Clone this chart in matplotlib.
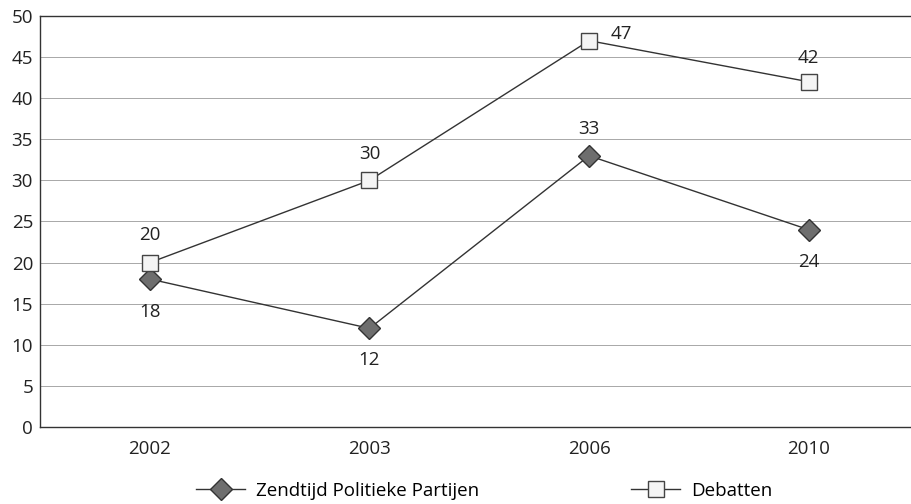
import numpy as np
import matplotlib.pyplot as plt

# Zendtijd vs debatten, percentages per verkiezingsjaar
years = ["2002", "2003", "2006", "2010"]
zendtijd = [18, 12, 33, 24]
debatten = [20, 30, 47, 42]

plt.rcParams['font.family'] = ['Open Sans', 'DejaVu Sans']

fig = plt.figure(figsize=(9.12, 5.04), dpi=100)
ax = fig.add_axes([40/912, 1 - 427/504, 872/912, 411/504])

X = np.arange(len(years))
ax.plot(X, zendtijd, color="#333333", lw=1.0, marker="D", ms=11,
        mfc="#6e6e6e", mec="#333333", mew=1.0, label="Zendtijd Politieke Partijen", zorder=3)
ax.plot(X, debatten, color="#333333", lw=1.0, marker="s", ms=11,
        mfc="#f4f4f4", mec="#444444", mew=1.0, label="Debatten", zorder=3)

# value labels
offs_z = [(0, -24), (0, -23), (0, 19), (0, -23)]
offs_d = [(0, 20), (0, 19), (23, 5), (0, 17)]
for x, v, o in zip(X, zendtijd, offs_z):
    ax.annotate(str(v), (x, v), xytext=o, textcoords="offset points",
                ha="center", va="center", fontsize=13.5, color="#222222")
for x, v, o in zip(X, debatten, offs_d):
    ax.annotate(str(v), (x, v), xytext=o, textcoords="offset points",
                ha="center", va="center", fontsize=13.5, color="#222222")

ax.set_xlim(-0.5, 3.47)
ax.set_ylim(0, 50)
ax.set_yticks(range(0, 51, 5))
ax.set_xticks(X)
ax.set_xticklabels(years)
ax.tick_params(length=0, labelsize=13.5, colors="#222222", pad=9)
ax.tick_params(axis="y", pad=5)
ax.grid(axis="y", color="#a8a8a8", lw=0.7)
ax.set_axisbelow(True)
for s in ["left", "bottom", "top"]:
    ax.spines[s].set_color("#333333")
    ax.spines[s].set_linewidth(1.0)
ax.spines["right"].set_visible(False)

fig.legend(loc="center", bbox_to_anchor=(0.531, 1 - 491/504), ncol=2, frameon=False,
           fontsize=13.5, handlelength=2.6, handletextpad=0.6, columnspacing=8.1)

plt.savefig("out.png", dpi=100)
